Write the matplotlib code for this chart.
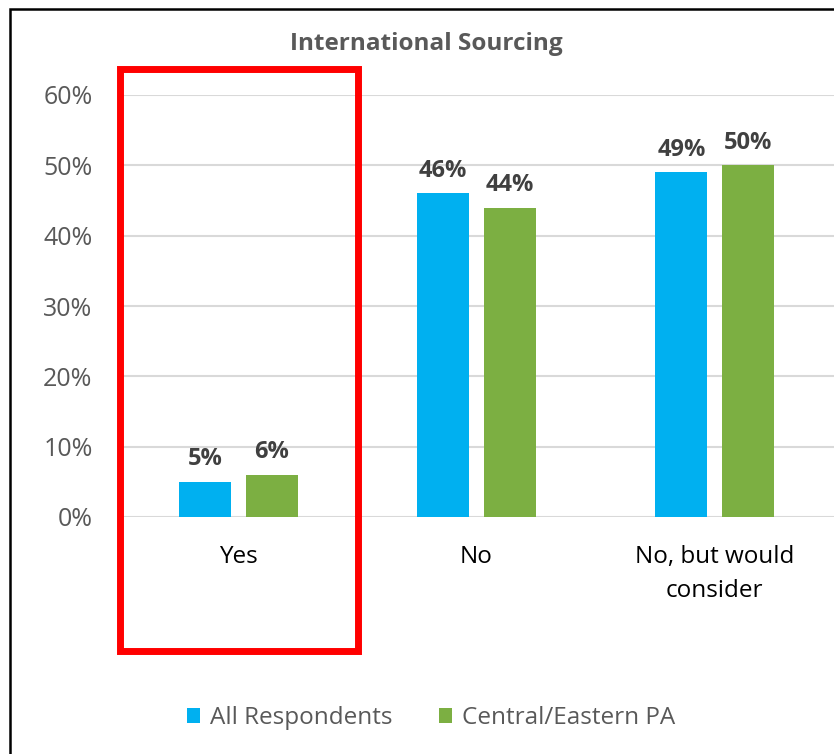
import matplotlib.pyplot as plt
from matplotlib.patches import Rectangle
from matplotlib.ticker import PercentFormatter

plt.rcParams['font.family'] = ['Open Sans', 'DejaVu Sans']

# data
categories = ['Yes', 'No', 'No, but would\nconsider']
series_names = ['All Respondents', 'Central/Eastern PA']
all_resp = [0.05, 0.46, 0.49]
central_east = [0.06, 0.44, 0.50]
colors = ['#00B0F0', '#7CAF42']

W, H = 834, 754
fig = plt.figure(figsize=(W / 100, H / 100), dpi=100)
ax = fig.add_axes([119 / W, 1 - 517 / H, (834 - 119) / W, (517 - 95) / H])

x = list(range(len(categories)))
bw = 0.218
off = 0.14
for vals, name, c, sgn in [(all_resp, series_names[0], colors[0], -1),
                           (central_east, series_names[1], colors[1], 1)]:
    pos = [i + sgn * off for i in x]
    bars = ax.bar(pos, vals, width=bw, color=c, label=name, zorder=3)
    for b, v in zip(bars, vals):
        ax.annotate(f'{v:.0%}', (b.get_x() + b.get_width() / 2, v),
                    xytext=(0, 12), textcoords='offset points',
                    ha='center', va='baseline', fontsize=17, fontweight='bold',
                    color='#404040')

ax.set_ylim(0, 0.6)
ax.set_xlim(-0.5, 2.5)
ax.set_yticks([0, 0.1, 0.2, 0.3, 0.4, 0.5, 0.6])
ax.yaxis.set_major_formatter(PercentFormatter(1.0, decimals=0))
ax.set_xticks(x)
ax.set_xticklabels(categories, fontsize=17.5, color='#000000', linespacing=1.55)
ax.tick_params(axis='x', length=0, pad=20)
ax.tick_params(axis='y', length=0, pad=19, labelsize=18, labelcolor='#595959')
ax.grid(axis='y', color='#D9D9D9', linewidth=1.5, zorder=0)
for s in ax.spines.values():
    s.set_visible(False)

fig.text(426 / W, 1 - 44 / H, 'International Sourcing', ha='center', va='center',
         fontsize=17.5, fontweight='bold', color='#595959')

fig.legend(loc='center', bbox_to_anchor=(431 / W, 1 - 718 / H), ncol=2,
           frameon=False, fontsize=17.5, labelcolor='#595959',
           handlelength=0.55, handleheight=0.6, handletextpad=0.4,
           columnspacing=1.9)

# outer chart border (extends past right/bottom edges)
fig.patches.append(Rectangle((10 / W, -0.1), 1.2, 1 - 9 / H + 0.1,
                             transform=fig.transFigure, fill=False,
                             edgecolor='black', linewidth=1.8))
# red highlight box around "Yes"
fig.patches.append(Rectangle((119.5 / W, 1 - 651 / H), (358 - 119.5) / W,
                             (651 - 68.5) / H, transform=fig.transFigure,
                             fill=False, edgecolor='#FF0000', linewidth=5))

fig.savefig('out.png', dpi=100)
